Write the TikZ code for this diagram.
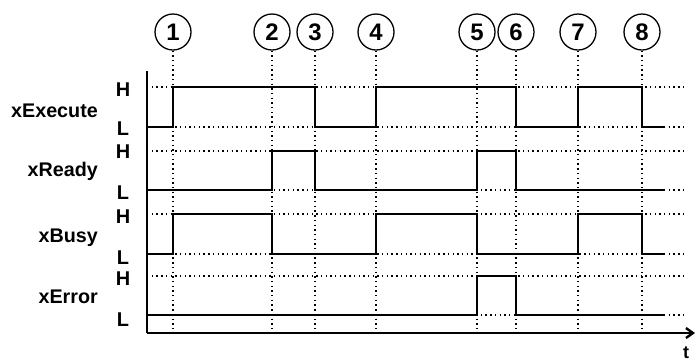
\documentclass[tikz,border=0pt]{standalone}
\usepackage{fontspec}
\setmainfont{Liberation Sans}
\usetikzlibrary{arrows.meta}
\tikzstyle{signal} = [line width=2.2pt, line join=miter]
\tikzstyle{guide} = [line width=1.2pt, dash pattern=on 1.4bp off 3.3bp]
\tikzstyle{axis} = [line width=2.4pt]
\tikzstyle{event} = [
  circle, draw, line width=1.3pt, minimum size=36bp, inner sep=0pt,
  font=\fontsize{24}{24}\selectfont\bfseries
]
\tikzstyle{level} = [anchor=base, inner sep=0pt, font=\fontsize{20}{20}\selectfont\bfseries]
\tikzstyle{signame} = [anchor=base east, inner sep=0pt, font=\fontsize{19.8}{20}\selectfont\bfseries]

\begin{document}
\begin{tikzpicture}[x=1bp, y=-1bp]
  \useasboundingbox (0,0) rectangle (696,363);

  % Horizontal level guides
  \foreach \y in {87,127,151,190,214,254,276,315}
    \draw[guide] (147,\y) -- (686,\y);

  % Events with vertical guides
  \foreach \n/\x in {1/173,2/272,3/315,4/376,5/477,6/516,7/578,8/642} {
    \node[event] (ev\n) at (\x,32) {\n};
    \coordinate (foot\n) at (\x,333);
    \draw[guide] (ev\n.south) -- (foot\n);
  }

  % Axes
  \coordinate (origin) at (147,333);
  \coordinate (top) at (147,71);
  \coordinate (tend) at (695,333);
  \draw[axis] (top) -- (origin);
  \draw[axis, -{Straight Barb[length=7bp, width=10bp]}] (origin) -- (tend);
  \node[level, font=\fontsize{18}{18}\selectfont\bfseries] (tlabel) at (686,358) {t};

  % Signal names
  \node[signame] (nexec) at (98,117) {xExecute};
  \node[signame] (nready) at (98,176) {xReady};
  \node[signame] (nbusy) at (98,242) {xBusy};
  \node[signame] (nerror) at (98,303) {xError};

  % Level letters
  \node[level] (hexec) at (123,96) {H};
  \node[level] (lexec) at (123,135) {L};
  \node[level] (hready) at (123,158) {H};
  \node[level] (lready) at (123,199) {L};
  \node[level] (hbusy) at (123,223) {H};
  \node[level] (lbusy) at (123,264) {L};
  \node[level] (herror) at (123,285) {H};
  \node[level] (lerror) at (123,326) {L};

  % xExecute
  \draw[signal] (147,127) -| (173,87) -| (315,127) -| (376,87) -| (516,127)
    -| (578,87) -| (642,127) -- (665,127);

  % xReady
  \draw[signal] (147,190) -| (272,151) -| (315,190) -| (477,151) -| (516,190)
    -- (665,190);

  % xBusy
  \draw[signal] (147,254) -| (173,214) -| (272,254) -| (376,214) -| (477,254)
    -| (578,214) -| (642,254) -- (665,254);

  % xError
  \draw[signal] (147,315) -| (477,276) -| (516,315) -- (665,315);

\end{tikzpicture}
\end{document}
